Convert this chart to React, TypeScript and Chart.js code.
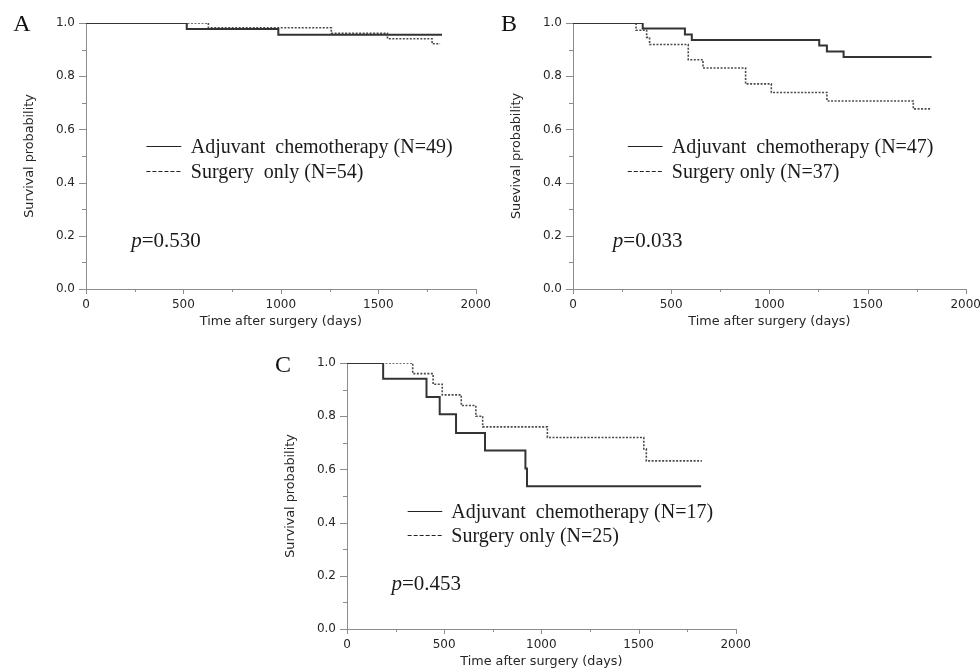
import React, { useEffect, useRef } from "react";
import { Chart, registerables } from "chart.js";

Chart.register(...registerables);

// ---------- data ----------
const X_TICK_LABELS = ["0", "500", "1000", "1500", "2000"];
const Y_TICK_LABELS = ["0.0", "0.2", "0.4", "0.6", "0.8", "1.0"];

// Panel A
const A_CHEMO_T = [0, 517, 987, 1827];
const A_CHEMO_S = [1, 0.977, 0.956, 0.956];
const A_SURG_T = [0, 628, 1259, 1547, 1776, 1817];
const A_SURG_S = [1, 0.982, 0.961, 0.941, 0.922, 0.922];

// Panel B
const B_CHEMO_T = [0, 355, 570, 605, 1254, 1293, 1378, 1826];
const B_CHEMO_S = [1, 0.979, 0.957, 0.936, 0.915, 0.893, 0.872, 0.872];
const B_SURG_T = [0, 321, 375, 390, 587, 662, 879, 1010, 1293, 1733, 1826];
const B_SURG_S = [1, 0.973, 0.946, 0.919, 0.862, 0.831, 0.771, 0.739, 0.707, 0.677, 0.677];

// Panel C
const C_CHEMO_T = [0, 186, 409, 477, 561, 710, 918, 926, 1822];
const C_CHEMO_S = [1, 0.941, 0.872, 0.807, 0.737, 0.671, 0.603, 0.537, 0.537];
const C_SURG_T = [0, 338, 443, 490, 588, 663, 698, 1031, 1527, 1540, 1826];
const C_SURG_S = [1, 0.96, 0.92, 0.88, 0.84, 0.8, 0.76, 0.72, 0.677, 0.632, 0.632];

const A_LABELS = ["Adjuvant  chemotherapy (N=49)", "Surgery  only (N=54)"];
const B_LABELS = ["Adjuvant  chemotherapy (N=47)", "Surgery only (N=37)"];
const C_LABELS = ["Adjuvant  chemotherapy (N=17)", "Surgery only (N=25)"];

const P_VALUES = ["=0.530", "=0.033", "=0.453"];
const LETTERS = ["A", "B", "C"];
const Y_TITLES = ["Survival probability", "Suevival probability", "Survival probability"];
const X_TITLE = "Time after surgery (days)";

// ---------- styling ----------
const AXIS_COLOR = "#8c8c8c";
const TEXT_COLOR = "#262626";
const SANS = '"DejaVu Sans", "Noto Sans", sans-serif';
const SERIF = '"Liberation Serif", "Times New Roman", serif';

const overlayPlugin = {
  id: "kmOverlay",
  afterDraw(chart: any, _args: any, o: any) {
    const { ctx, chartArea: ca } = chart;
    const xs = chart.scales.x;
    const ys = chart.scales.y;
    ctx.save();
    // tick marks (major / minor)
    ctx.strokeStyle = AXIS_COLOR;
    ctx.lineWidth = 1;
    xs.ticks.forEach((t: any) => {
      const px = Math.round(xs.getPixelForValue(t.value)) + 0.5;
      const len = Math.round(t.value) % 500 === 0 ? 5 : 3;
      ctx.beginPath();
      ctx.moveTo(px, ca.bottom);
      ctx.lineTo(px, ca.bottom + len);
      ctx.stroke();
    });
    ys.ticks.forEach((t: any) => {
      const py = Math.round(ys.getPixelForValue(t.value)) + 0.5;
      const len = Math.round(t.value * 10) % 2 === 0 ? 7 : 4;
      ctx.beginPath();
      ctx.moveTo(ca.left - len, py);
      ctx.lineTo(ca.left, py);
      ctx.stroke();
    });

    // axis titles
    ctx.fillStyle = TEXT_COLOR;
    ctx.font = `12.75px ${SANS}`;
    ctx.textAlign = "center";
    ctx.textBaseline = "middle";
    ctx.fillText(o.xTitle, (ca.left + ca.right) / 2, ca.bottom + o.xTitleOffset);
    ctx.save();
    ctx.translate(ca.left - 56, (ca.top + ca.bottom) / 2);
    ctx.rotate(-Math.PI / 2);
    ctx.fillText(o.yTitle, 0, 0);
    ctx.restore();

    // panel letter
    ctx.fillStyle = "#111111";
    ctx.font = `24px ${SERIF}`;
    ctx.textAlign = "center";
    ctx.textBaseline = "middle";
    ctx.fillText(o.letter, ca.left - 64, ca.top + o.letterDy);

    // legend
    ctx.strokeStyle = "#222222";
    ctx.lineWidth = 1.2;
    const x0 = xs.getPixelForValue(o.legLineX[0]);
    const x1 = xs.getPixelForValue(o.legLineX[1]);
    const tx = xs.getPixelForValue(o.legTextX);
    o.legRows.forEach((rv: number, i: number) => {
      const py = Math.round(ys.getPixelForValue(rv)) + 0.5;
      ctx.setLineDash(i === 0 ? [] : [4, 2]);
      ctx.beginPath();
      ctx.moveTo(x0, py);
      ctx.lineTo(x1, py);
      ctx.stroke();
      ctx.fillStyle = "#1a1a1a";
      ctx.font = `20px ${SERIF}`;
      ctx.textAlign = "left";
      ctx.textBaseline = "middle";
      ctx.fillText(o.labels[i], tx, py + 1);
    });
    ctx.setLineDash([]);

    // p value
    const px = xs.getPixelForValue(o.pX);
    const py = ys.getPixelForValue(o.pY);
    ctx.fillStyle = "#1a1a1a";
    ctx.textAlign = "left";
    ctx.textBaseline = "middle";
    ctx.font = `italic 21px ${SERIF}`;
    ctx.fillText("p", px, py);
    const w = ctx.measureText("p").width;
    ctx.font = `21px ${SERIF}`;
    ctx.fillText(o.pText, px + w, py);
    ctx.restore();
  },
};

type PanelProps = {
  box: { left: number; top: number; w: number; h: number };
  area: { left: number; top: number; right: number; bottom: number };
  chemoT: number[];
  chemoS: number[];
  surgT: number[];
  surgS: number[];
  overlay: any;
};

function Panel({ box, area, chemoT, chemoS, surgT, surgS, overlay }: PanelProps) {
  const ref = useRef<HTMLCanvasElement | null>(null);
  useEffect(() => {
    if (!ref.current) return;
    const chart = new Chart(ref.current, {
      type: "line",
      data: {
        datasets: [
          {
            label: "Adjuvant chemotherapy",
            data: chemoT.map((t, i) => ({ x: t, y: chemoS[i] })),
            stepped: true,
            borderColor: "#333333",
            borderWidth: 2,
            pointRadius: 0,
            fill: false,
            borderCapStyle: "butt",
          },
          {
            label: "Surgery only",
            data: surgT.map((t, i) => ({ x: t, y: surgS[i] })),
            stepped: true,
            borderColor: "#4a4a4a",
            borderWidth: 1.6,
            borderDash: [2, 1.5],
            pointRadius: 0,
            fill: false,
            borderCapStyle: "butt",
          },
        ],
      },
      options: {
        animation: false,
        responsive: false,
        maintainAspectRatio: false,
        devicePixelRatio: 1,
        layout: {
          padding: { left: 0, top: area.top, right: box.w - area.right, bottom: 0 },
        },
        plugins: {
          legend: { display: false },
          tooltip: { enabled: false },
          kmOverlay: overlay,
        },
        scales: {
          x: {
            type: "linear",
            min: 0,
            max: 2000,
            grid: { display: false, drawTicks: false },
            border: { display: true, color: AXIS_COLOR, width: 1 },
            ticks: {
              stepSize: 250,
              autoSkip: false,
              maxRotation: 0,
              padding: 9,
              color: TEXT_COLOR,
              font: { family: SANS, size: 12 },
              callback: (v: any) => {
                const n = Number(v);
                return n % 500 === 0 ? X_TICK_LABELS[n / 500] : "";
              },
            },
            afterFit: (s: any) => {
              s.height = box.h - area.bottom;
            },
          },
          y: {
            type: "linear",
            min: 0,
            max: 1,
            grid: { display: false, drawTicks: false },
            border: { display: true, color: AXIS_COLOR, width: 1 },
            ticks: {
              stepSize: 0.1,
              autoSkip: false,
              padding: 11,
              color: TEXT_COLOR,
              font: { family: SANS, size: 12 },
              callback: (v: any) => {
                const k = Math.round(Number(v) * 10);
                return k % 2 === 0 ? Y_TICK_LABELS[k / 2] : "";
              },
            },
            afterFit: (s: any) => {
              s.width = area.left;
            },
          },
        },
      } as any,
      plugins: [overlayPlugin],
    });
    return () => chart.destroy();
  }, []);
  return (
    <canvas
      ref={ref}
      width={box.w}
      height={box.h}
      style={{ position: "absolute", left: box.left, top: box.top, width: box.w, height: box.h }}
    />
  );
}

export default function App() {
  return (
    <div
      style={{
        position: "absolute",
        left: 0,
        top: 0,
        width: 980,
        height: 669,
        overflow: "hidden",
        background: "#ffffff",
      }}
    >
      <Panel
        box={{ left: 0, top: 0, w: 500, h: 340 }}
        area={{ left: 86, top: 23, right: 479, bottom: 289 }}
        chemoT={A_CHEMO_T}
        chemoS={A_CHEMO_S}
        surgT={A_SURG_T}
        surgS={A_SURG_S}
        overlay={{
          xTitle: X_TITLE,
          xTitleOffset: 33,
          yTitle: Y_TITLES[0],
          letter: LETTERS[0],
          letterDy: 2,
          legLineX: [310, 489],
          legTextX: 538,
          legRows: [0.538, 0.442],
          labels: A_LABELS,
          pX: 232,
          pY: 0.178,
          pText: P_VALUES[0],
        }}
      />
      <Panel
        box={{ left: 490, top: 0, w: 500, h: 340 }}
        area={{ left: 83, top: 23, right: 478, bottom: 289 }}
        chemoT={B_CHEMO_T}
        chemoS={B_CHEMO_S}
        surgT={B_SURG_T}
        surgS={B_SURG_S}
        overlay={{
          xTitle: X_TITLE,
          xTitleOffset: 33,
          yTitle: Y_TITLES[1],
          letter: LETTERS[1],
          letterDy: 2,
          legLineX: [279, 456],
          legTextX: 503,
          legRows: [0.538, 0.442],
          labels: B_LABELS,
          pX: 203,
          pY: 0.18,
          pText: P_VALUES[1],
        }}
      />
      <Panel
        box={{ left: 260, top: 335, w: 500, h: 334 }}
        area={{ left: 87, top: 28, right: 481, bottom: 294 }}
        chemoT={C_CHEMO_T}
        chemoS={C_CHEMO_S}
        surgT={C_SURG_T}
        surgS={C_SURG_S}
        overlay={{
          xTitle: X_TITLE,
          xTitleOffset: 33,
          yTitle: Y_TITLES[2],
          letter: LETTERS[2],
          letterDy: 3,
          legLineX: [312, 490],
          legTextX: 537,
          legRows: [0.445, 0.353],
          labels: C_LABELS,
          pX: 229,
          pY: 0.169,
          pText: P_VALUES[2],
        }}
      />
    </div>
  );
}
